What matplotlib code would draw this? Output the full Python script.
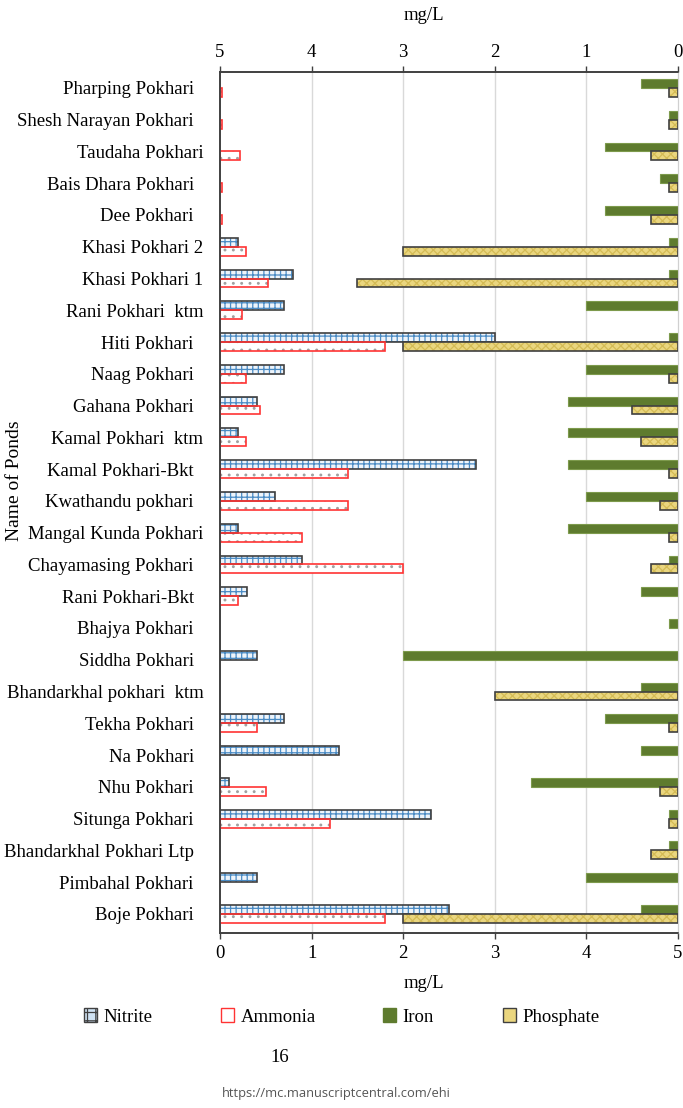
import numpy as np
import matplotlib
matplotlib.use('Agg')
import matplotlib.pyplot as plt
from matplotlib.patches import Patch

plt.rcParams['font.family'] = ['Liberation Serif', 'DejaVu Serif']
plt.rcParams['hatch.linewidth'] = 0.9

ponds = ["Pharping Pokhari  ", "Shesh Narayan Pokhari  ", "Taudaha Pokhari",
         "Bais Dhara Pokhari  ", "Dee Pokhari  ", "Khasi Pokhari 2", "Khasi Pokhari 1",
         "Rani Pokhari  ktm", "Hiti Pokhari  ", "Naag Pokhari  ", "Gahana Pokhari  ",
         "Kamal Pokhari  ktm", "Kamal Pokhari-Bkt  ", "Kwathandu pokhari  ",
         "Mangal Kunda Pokhari", "Chayamasing Pokhari  ", "Rani Pokhari-Bkt  ",
         "Bhajya Pokhari  ", "Siddha Pokhari  ", "Bhandarkhal pokhari  ktm",
         "Tekha Pokhari  ", "Na Pokhari  ", "Nhu Pokhari  ", "Situnga Pokhari  ",
         "Bhandarkhal Pokhari Ltp  ", "Pimbahal Pokhari  ", "Boje Pokhari  "]
nitrite = [0, 0, 0, 0, 0, 0.2, 0.8, 0.7, 3.0, 0.7, 0.4, 0.2, 2.8, 0.6, 0.2, 0.9, 0.3,
           0, 0.4, 0, 0.7, 1.3, 0.1, 2.3, 0, 0.4, 2.5]
ammonia = [0.02, 0.02, 0.22, 0.02, 0.02, 0.28, 0.52, 0.24, 1.8, 0.28, 0.44, 0.28, 1.4,
           1.4, 0.9, 2.0, 0.2, 0, 0, 0, 0.4, 0, 0.5, 1.2, 0, 0, 1.8]
iron = [0.4, 0.1, 0.8, 0.2, 0.8, 0.1, 0.1, 1.0, 0.1, 1.0, 1.2, 1.2, 1.2, 1.0, 1.2, 0.1,
        0.4, 0.1, 3.0, 0.4, 0.8, 0.4, 1.6, 0.1, 0.1, 1.0, 0.4]
phosphate = [0.1, 0.1, 0.3, 0.1, 0.3, 3.0, 3.5, 0, 3.0, 0.1, 0.5, 0.4, 0.1, 0.2, 0.1,
             0.3, 0, 0, 0, 2.0, 0.1, 0, 0.2, 0.1, 0.3, 0, 3.0]

y = np.arange(len(ponds))
h = 0.28
off = 0.14
fs = 13.5

def lw_for(vals, w):
    return [w if v > 0 else 0 for v in vals]

fig = plt.figure(figsize=(6.83, 11.08), dpi=100)
ax = fig.add_axes([220/683, 1-933/1108, 458/683, 861/1108])

for g in [1, 2, 3, 4]:
    ax.axvline(g, color='#d9d9d9', lw=1, zorder=0)

# nitrite: blue brick hatch + dark outline
ax.barh(y - off, nitrite, height=h, color='#eef4fa', edgecolor='#4a8bc4', hatch='+++',
        linewidth=0, zorder=2)
ax.barh(y - off, nitrite, height=h, color='none', edgecolor='#404040',
        linewidth=lw_for(nitrite, 1.2), zorder=3)
# ammonia: dotted, red outline
ax.barh(y + off, ammonia, height=h, color='white', edgecolor='#a0a0a0', hatch='..',
        linewidth=0, zorder=2)
ax.barh(y + off, ammonia, height=h, color='none', edgecolor='#ff3333',
        linewidth=lw_for(ammonia, 1.2), zorder=3)

ax.set_xlim(0, 5)
ax.set_ylim(26.6, -0.5)
ax.set_yticks(y)
ax.set_yticklabels(ponds)
ax.tick_params(axis='y', length=0, pad=12, labelsize=fs)
ax.tick_params(axis='x', direction='out', length=4, width=1, color='#404040',
               pad=5, labelsize=fs)
ax.set_xticks([0, 1, 2, 3, 4, 5])

ax2 = ax.twiny()
ax2.barh(y - off, iron, height=h, color='#5e7b2e', edgecolor='#7d9a4c',
         linewidth=lw_for(iron, 0.8), zorder=2)
ax2.barh(y + off, phosphate, height=h, color='#ead67f', edgecolor='#d4bb55',
         hatch='xxxx', linewidth=0, zorder=2)
ax2.barh(y + off, phosphate, height=h, color='none', edgecolor='#404040',
         linewidth=lw_for(phosphate, 1.2), zorder=3)
ax2.set_xlim(5, 0)
ax2.set_xticks([5, 4, 3, 2, 1, 0])
ax2.tick_params(axis='x', direction='out', length=4, width=1, color='#404040',
                pad=4, labelsize=fs)

for a in (ax, ax2):
    for s in ['left', 'bottom', 'top']:
        a.spines[s].set_color('#404040')
        a.spines[s].set_linewidth(1.2)
    a.spines['right'].set_color('#d0d0d0')

ax.set_ylabel('Name of Ponds', fontsize=14)
ax.yaxis.set_label_coords(-0.43, 0.525)

fig.text(424/683, 1-16/1108, 'mg/L', ha='center', va='center', fontsize=fs)
fig.text(424/683, 1-983/1108, 'mg/L', ha='center', va='center', fontsize=fs)

handles = [Patch(facecolor='#cfe2f3', edgecolor='#404040', hatch='++', label='Nitrite'),
           Patch(facecolor='white', edgecolor='#ff3333', label='Ammonia'),
           Patch(facecolor='#5e7b2e', edgecolor='#5e7b2e', label='Iron'),
           Patch(facecolor='#ead67f', edgecolor='#404040', label='Phosphate')]
xs = [84, 221, 383, 503]
for hd, xp in zip(handles, xs):
    fig.legend(handles=[hd], loc='center left', bbox_to_anchor=(xp/683, 1-1017/1108),
               frameon=False, borderpad=0, borderaxespad=0, handlelength=0.7,
               handleheight=0.7, handletextpad=0.35, fontsize=fs)

fig.text(280/683, 1-1057/1108, '16', ha='center', va='center', fontsize=fs)
fig.text(336/683, 1-1094/1108, 'https://mc.manuscriptcentral.com/ehi', ha='center',
         va='center', fontsize=9.3, color='#555555', family=['Open Sans', 'DejaVu Sans'])

fig.savefig('out.png', dpi=100)
